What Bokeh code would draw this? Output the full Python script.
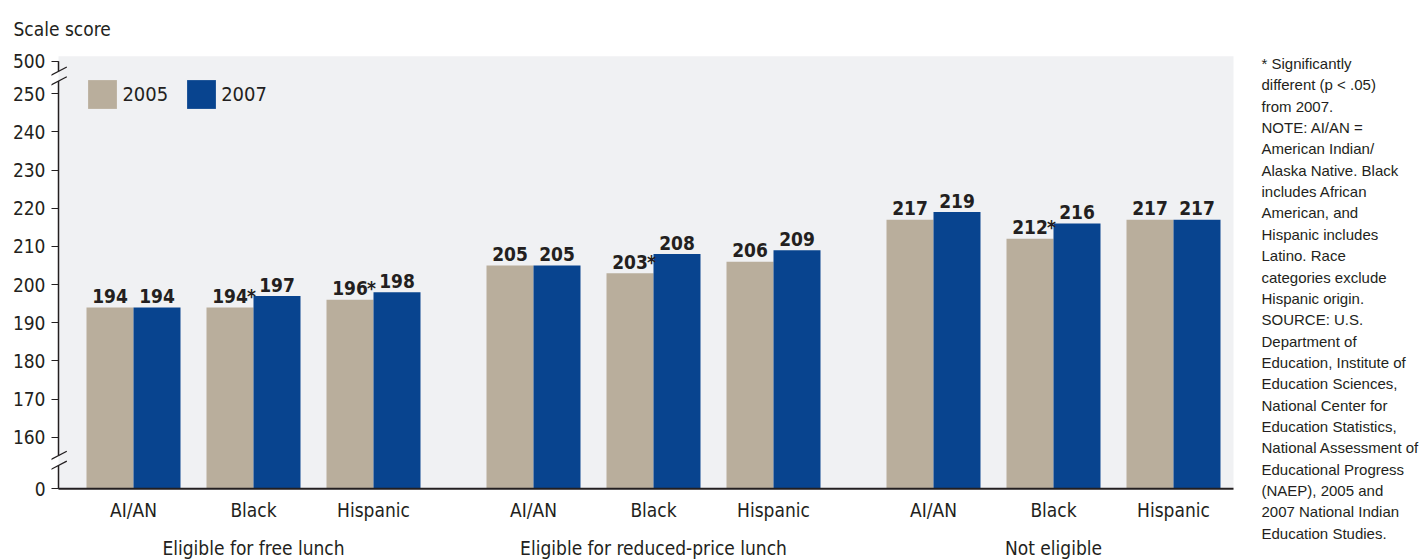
from bokeh.plotting import figure
from bokeh.models import (Range1d, FixedTicker, Label, Legend, LegendItem, ColumnDataSource)
from bokeh.core.properties import value
from bokeh.transform import dodge
from bokeh.embed import file_html
from bokeh.resources import INLINE

# ---------------- data ----------------
groups = ["Eligible for free lunch", "Eligible for reduced-price lunch", "Not eligible"]
races = ["AI/AN", "Black", "Hispanic"]
years = ["2005", "2007"]
score_2005 = [194, 194, 196, 205, 203, 206, 217, 212, 217]
score_2007 = [194, 197, 198, 205, 208, 209, 219, 216, 217]
sig_2005 = [False, True, True, False, True, False, False, True, False]
y_tick_values = [0, 160, 170, 180, 190, 200, 210, 220, 230, 240, 250, 500]
axis_title = "Scale score"
note_lines = [
    "* Significantly",
    "different (p < .05)",
    "from 2007.",
    "NOTE: AI/AN =",
    "American Indian/",
    "Alaska Native. Black",
    "includes African",
    "American, and",
    "Hispanic includes",
    "Latino. Race",
    "categories exclude",
    "Hispanic origin.",
    "SOURCE: U.S.",
    "Department of",
    "Education, Institute of",
    "Education Sciences,",
    "National Center for",
    "Education Statistics,",
    "National Assessment of",
    "Educational Progress",
    "(NAEP), 2005 and",
    "2007 National Indian",
    "Education Studies.",
]

# ---------------- styling / layout ----------------
TAN = "#b9ae9c"
BLUE = "#08448f"
BG = "#f0f1f3"
INK = "#231f20"
COND = "DejaVu Sans Condensed"
REGULAR = "Liberation Sans"

GROUP_STEP = 400          # px between group starts
RACE_STEP = 120           # px between race categories
BAR_W = 47

# broken y axis: 0 and 500 are drawn at compressed positions
ZERO_POS = 146.5
TOP_POS = 258.5
PX_PER_UNIT = 3.816


def disp(v):
    if v <= 0:
        return ZERO_POS
    if v >= 500:
        return TOP_POS
    return v


def xpos(g, r):
    return g * GROUP_STEP + r * RACE_STEP


W, H = 1422, 560
BORDER_LEFT, BORDER_TOP = 51, 45
FRAME_W, FRAME_H = W - BORDER_LEFT, H - BORDER_TOP
X_START = -82                                        # data x at frame left (1 unit = 1 px)
Y_END = 250 + (93.3 - BORDER_TOP) / PX_PER_UNIT      # data y at frame top
Y_START = Y_END - FRAME_H / PX_PER_UNIT

PANEL_LEFT, PANEL_RIGHT, PANEL_TOP = -75, 1100, 259.85

p = figure(width=W, height=H, x_axis_type=None,
           x_range=Range1d(X_START, X_START + FRAME_W),
           y_range=Range1d(Y_START, Y_END),
           output_backend="svg", toolbar_location=None,
           min_border_left=BORDER_LEFT, min_border_right=0,
           min_border_top=BORDER_TOP, min_border_bottom=0,
           background_fill_color="white", border_fill_color="white",
           outline_line_color=None)
p.grid.visible = False

# plotting panel background
p.quad(left=PANEL_LEFT, right=PANEL_RIGHT, bottom=ZERO_POS, top=PANEL_TOP,
       fill_color=BG, line_color=None)

xs = [xpos(g, r) for g in range(3) for r in range(3)]
src = ColumnDataSource(dict(
    x=xs, v05=score_2005, v07=score_2007,
    l05=[str(v) for v in score_2005], l07=[str(v) for v in score_2007],
    race=[races[i % 3] for i in range(9)],
))
sig_idx = [i for i, s in enumerate(sig_2005) if s]
sig_src = ColumnDataSource(dict(
    x=[xs[i] for i in sig_idx], v=[score_2005[i] for i in sig_idx], t=["*"] * len(sig_idx)
))
group_src = ColumnDataSource(dict(x=[xpos(g, 1) for g in range(3)], name=groups))

r05 = p.vbar(x=dodge("x", -BAR_W / 2), width=BAR_W, top="v05", bottom=disp(0),
             fill_color=TAN, line_color=None, source=src)
r07 = p.vbar(x=dodge("x", BAR_W / 2), width=BAR_W, top="v07", bottom=disp(0),
             fill_color=BLUE, line_color=None, source=src)

# baseline
p.segment(x0=PANEL_LEFT, x1=PANEL_RIGHT, y0=ZERO_POS, y1=ZERO_POS,
          line_color=INK, line_width=2)

# value labels (alphabetic baseline renders ~0.4em low, compensated in offsets)
lab_kw = dict(text_font=value(COND), text_font_style="bold", text_font_size="19px",
              text_color=INK, text_baseline="alphabetic", y_offset=-11.5)
p.text(x=dodge("x", -BAR_W / 2), y="v05", text="l05", text_align="center", source=src, **lab_kw)
p.text(x=dodge("x", BAR_W / 2), y="v07", text="l07", text_align="center", source=src, **lab_kw)
p.text(x=dodge("x", -BAR_W / 2), y="v", text="t", text_align="left", x_offset=17,
       source=sig_src, **lab_kw)

# category labels under the baseline
cat_kw = dict(text_font=value(COND), text_font_size="19px", text_color=INK,
              text_align="center", text_baseline="alphabetic")
p.text(x="x", y=ZERO_POS, text="race", y_offset=21, source=src, **cat_kw)
p.text(x="x", y=ZERO_POS, text="name", y_offset=59, source=group_src, **cat_kw)

# ---------------- y axis ----------------
yax = p.left[0]
yax.ticker = FixedTicker(ticks=[disp(v) for v in y_tick_values])
yax.major_label_overrides = {disp(v): str(v) for v in y_tick_values}
yax.axis_line_color = None
yax.major_tick_line_color = INK
yax.major_tick_line_width = 1.2
yax.major_tick_out = 0
yax.major_tick_in = 7
yax.minor_tick_line_color = None
yax.major_label_standoff = 6
yax.major_label_text_font = COND
yax.major_label_text_font_size = "19px"
yax.major_label_text_color = INK

# broken axis line drawn in pieces, with slash marks at the breaks
break_top = (255.9, 253.35)
break_bot = (155.2, 152.6)
pieces = [(TOP_POS, break_top[0]), (break_top[1], break_bot[0]), (break_bot[1], ZERO_POS)]
p.segment(x0=[PANEL_LEFT] * 3, x1=[PANEL_LEFT] * 3,
          y0=[a for a, b in pieces], y1=[b for a, b in pieces],
          line_color=INK, line_width=1.5)
SL_DX = 8.3
SL_DY = 4.3 / PX_PER_UNIT
brk = list(break_top) + list(break_bot)
p.segment(x0=[PANEL_LEFT - SL_DX] * 4, x1=[PANEL_LEFT + SL_DX] * 4,
          y0=[c - SL_DY for c in brk], y1=[c + SL_DY for c in brk],
          line_color=INK, line_width=1.3)

# ---------------- title ----------------
p.title.text = axis_title
p.title.align = "left"
p.title.offset = 13 - BORDER_LEFT
p.title.standoff = 12
p.title.text_font = COND
p.title.text_font_size = "19px"
p.title.text_font_style = "normal"
p.title.text_color = INK

# ---------------- legend ----------------
GLYPH = 36   # legend draws bar swatches inset by 10% -> 29 px squares
legend = Legend(items=[LegendItem(label=years[0], renderers=[r05]),
                       LegendItem(label=years[1], renderers=[r07])],
                location=(84.4 - BORDER_LEFT, H - 111.6), orientation="horizontal",
                glyph_width=GLYPH, glyph_height=GLYPH, label_standoff=2, spacing=15,
                padding=0, margin=0, background_fill_alpha=0, border_line_color=None,
                label_text_font=COND, label_text_font_size="20px",
                label_text_color=INK, label_height=GLYPH)
p.add_layout(legend)

# ---------------- note ----------------
NOTE_X = 1261 - BORDER_LEFT
NOTE_TOP_BASELINE = 63
NOTE_STEP = 21.35
for i, line in enumerate(note_lines):
    p.add_layout(Label(x=NOTE_X, y=H - (NOTE_TOP_BASELINE + i * NOTE_STEP),
                       x_units="screen", y_units="screen", text=line,
                       text_font=REGULAR, text_font_size="15px", text_color=INK,
                       text_baseline="alphabetic"))

open("out.html", "w").write(file_html(p, INLINE))
